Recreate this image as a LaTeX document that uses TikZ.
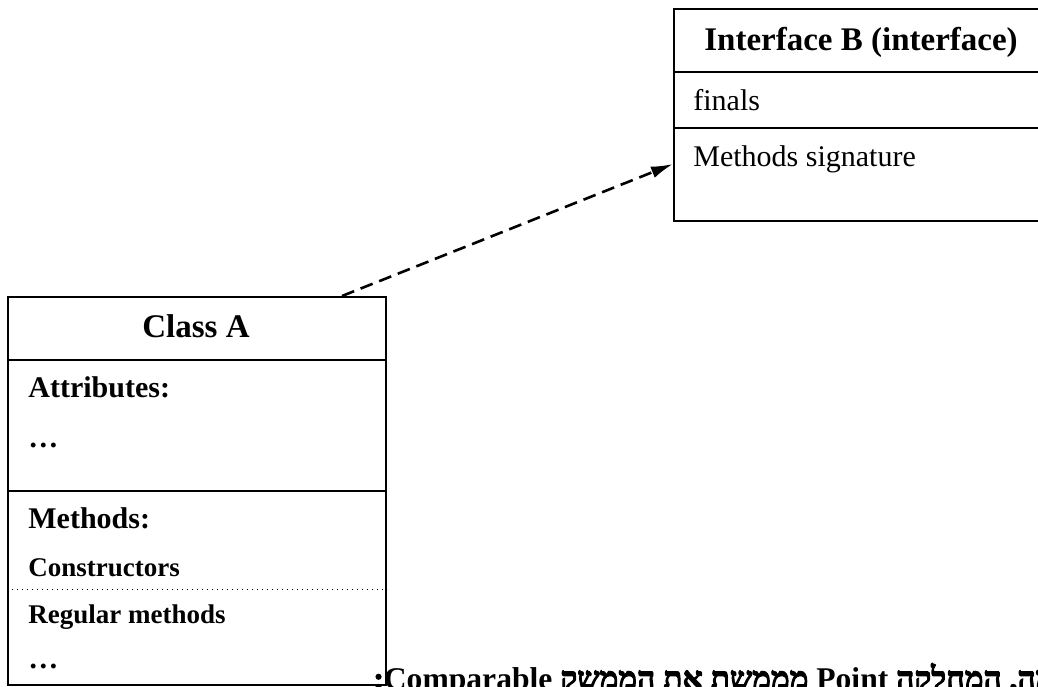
\documentclass[tikz,border=0pt]{standalone}
\usepackage{fontspec}
\setmainfont{Liberation Serif}
\newfontfamily\hebfont[Script=Hebrew,BoldFeatures={FakeBold=3}]{Liberation Serif}
\TeXXeTstate=1
\usetikzlibrary{arrows.meta,positioning}

\tikzset{
  umlbox/.style={draw,line width=1pt,inner sep=0pt,anchor=north west},
  boxtitle/.style={anchor=base,inner sep=0pt,font=\bfseries\fontsize{16.5}{19}\selectfont},
  entry/.style={anchor=base west,inner sep=0pt,font=\fontsize{15}{18}\selectfont},
  bentry/.style={entry,font=\bfseries\fontsize{15}{18}\selectfont},
  sentry/.style={entry,font=\bfseries\fontsize{13.5}{16}\selectfont},
  realize/.style={line width=1.3pt,dash pattern=on 6.5pt off 3.5pt,-{Latex[length=11pt,width=6pt]}}
}

\begin{document}
\begin{tikzpicture}[x=0.5pt,y=-0.5pt]
\useasboundingbox (0,0) rectangle (1038,686);
\clip (0,0) rectangle (1038,686);

% Interface B
\node[umlbox,minimum width=188pt,minimum height=106pt] (ifaceB) at (673,8) {};
\draw[line width=1pt] (ifaceB.west |- 0,72) -- (ifaceB.east |- 0,72);
\draw[line width=1pt] (ifaceB.west |- 0,128) -- (ifaceB.east |- 0,128);
\node[boxtitle] (ifaceTitle) at (861,50) {Interface B (interface)};
\node[entry] (finals) at (693,110) {finals};
\node[entry] (signature) at (693,166) {Methods signature};

% Class A
\node[umlbox,minimum width=189pt,minimum height=194pt] (classA) at (7,296) {};
\draw[line width=1pt] (classA.west |- 0,360) -- (classA.east |- 0,360);
\draw[line width=1pt] (classA.west |- 0,491) -- (classA.east |- 0,491);
\draw[dotted,line width=0.5pt] (classA.west |- 0,589) -- (classA.east |- 0,589);
\node[boxtitle] (classTitle) at (196,337) {Class A};
\node[bentry] (attrs) at (28,397) {Attributes:};
\node[bentry] (attrDots) at (28,447) {\dots};
\node[bentry] (methods) at (28,528) {Methods:};
\node[sentry] (ctors) at (28,576) {Constructors};
\node[sentry] (regular) at (28,623) {Regular methods};
\node[bentry] (methDots) at (28,668) {\dots};

% Implements
\draw[realize] ([xshift=-22.5pt]classA.north east) -- ([yshift=-78pt]ifaceB.north west);

% Hebrew caption (cut by the frame)
\node[anchor=base west,inner sep=0pt,font=\hebfont\bfseries\fontsize{15.8}{19}\selectfont] (caption) at (373,689)
  {\beginR לדוגמה, המחלקה \beginL{\normalfont\bfseries\fontsize{15.8}{19}\selectfont Point}\endL{} מממשת את הממשק \beginL{\normalfont\bfseries\fontsize{15.8}{19}\selectfont Comparable}\endL:\endR};
\end{tikzpicture}
\end{document}
